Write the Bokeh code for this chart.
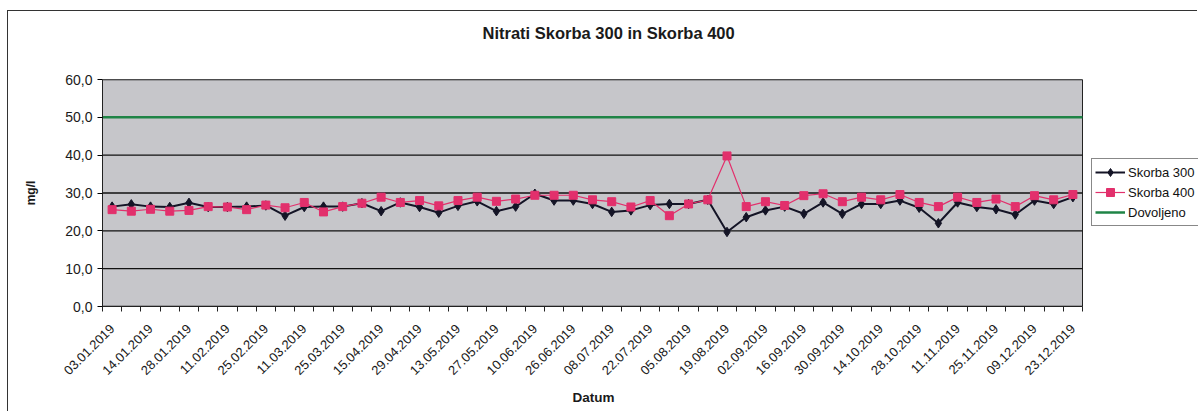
from bokeh.plotting import figure
from bokeh.layouts import column
from bokeh.models import FixedTicker, Legend, LegendItem, Range1d, Title
from bokeh.embed import file_html
from bokeh.resources import INLINE

# ---- data -------------------------------------------------------------
title_text = "Nitrati Skorba 300 in Skorba 400"
x_title = "Datum"
y_title = "mg/l"

# labelled sampling dates (every second sample carries a label)
date_labels = ["03.01.2019", "14.01.2019", "28.01.2019", "11.02.2019", "25.02.2019",
               "11.03.2019", "25.03.2019", "15.04.2019", "29.04.2019", "13.05.2019",
               "27.05.2019", "10.06.2019", "26.06.2019", "08.07.2019", "22.07.2019",
               "05.08.2019", "19.08.2019", "02.09.2019", "16.09.2019", "30.09.2019",
               "14.10.2019", "28.10.2019", "11.11.2019", "25.11.2019", "09.12.2019",
               "23.12.2019"]

skorba300 = [26.4, 27.0, 26.4, 26.3, 27.4, 26.3, 26.3, 26.4, 26.7, 24.0,
             26.3, 26.4, 26.4, 27.3, 25.2, 27.5, 26.3, 24.8, 26.6, 27.8,
             25.2, 26.4, 29.8, 28.0, 28.0, 27.1, 25.0, 25.4, 26.8, 27.1,
             27.1, 28.2, 19.7, 23.6, 25.4, 26.4, 24.5, 27.5, 24.5, 27.1,
             27.1, 28.0, 26.1, 22.0, 27.5, 26.3, 25.7, 24.3, 28.0, 27.1,
             28.9]

skorba400 = [25.6, 25.2, 25.7, 25.2, 25.4, 26.4, 26.3, 25.6, 26.8, 26.1,
             27.5, 25.0, 26.4, 27.3, 28.9, 27.5, 28.0, 26.6, 28.0, 28.9,
             27.8, 28.4, 29.4, 29.4, 29.4, 28.2, 27.7, 26.3, 28.0, 24.0,
             27.1, 28.2, 39.8, 26.4, 27.7, 26.7, 29.3, 29.8, 27.7, 28.9,
             28.2, 29.6, 27.5, 26.4, 28.9, 27.5, 28.4, 26.4, 29.3, 28.2,
             29.6]

dovoljeno = 50.0  # allowed limit

y_ticks = [0, 10, 20, 30, 40, 50, 60]
y_tick_labels = ["0,0", "10,0", "20,0", "30,0", "40,0", "50,0", "60,0"]

# ---- layout constants -------------------------------------------------
FONT = "Liberation Sans"
W, H = 1190, 401
LEFT, TOP, BOTTOM = 94, 68, 106
PLOT_W = 980                      # width of the grey plot area in px

n = len(skorba300)
xs = list(range(n))
x_start, x_end = -0.5, n - 0.5
y_min, y_max = y_ticks[0], y_ticks[-1]
# the frame reaches the right edge so the legend can sit right of the plot area
x_view_end = x_start + n * (W - LEFT) / PLOT_W

p = figure(width=W, height=H, output_backend="svg", toolbar_location=None,
           x_range=Range1d(x_start, x_view_end), y_range=Range1d(y_min, y_max),
           min_border_left=LEFT, min_border_right=0, min_border_top=TOP,
           min_border_bottom=BOTTOM)

p.background_fill_color = "white"
p.border_fill_color = "white"
p.outline_line_color = None

p.styles = {"border-left": "1px solid #333333", "border-top": "1px solid #333333"}

# title
p.title.text = title_text
p.title.align = "left"
p.title.offset = 380
p.title.text_font = FONT
p.title.text_font_size = "16.5px"
p.title.text_font_style = "bold"
p.title.text_color = "#1a1a1a"
p.title.standoff = 0

# empty spacer between the title and the plot area
spacer = Title(text=" ", text_font=FONT, text_font_size="16.5px", standoff=18)
p.add_layout(spacer, "above")

# grey plot area + grid lines (limited to the category range)
p.quad(left=x_start, right=x_end, bottom=y_min, top=y_max,
       fill_color="#c6c6ca", line_color="#222222", line_width=1)
p.segment(x0=[x_start] * len(y_ticks), x1=[x_end] * len(y_ticks),
          y0=y_ticks, y1=y_ticks, line_color="#111111", line_width=1.3)
p.xgrid.visible = False
p.ygrid.visible = False

# y axis
ya = p.yaxis[0]
ya.ticker = FixedTicker(ticks=y_ticks)
ya.major_label_overrides = {t: l for t, l in zip(y_ticks, y_tick_labels)}
ya.major_label_text_font = FONT
ya.major_label_text_font_size = "14px"
ya.major_label_text_color = "#1a1a1a"
ya.major_tick_out = 5
ya.major_tick_in = 0
ya.minor_tick_line_color = None
ya.major_label_standoff = 5
ya.axis_line_color = "#222222"
ya.axis_label = y_title
ya.axis_label_text_font = FONT
ya.axis_label_text_font_size = "12px"
ya.axis_label_text_font_style = "bold"
ya.axis_label_text_color = "#1a1a1a"
ya.axis_label_standoff = 24

# x axis
label_pos = xs[::2]
xa = p.xaxis[0]
xa.bounds = (x_start, x_end)
xa.ticker = FixedTicker(ticks=label_pos,
                        minor_ticks=[i - 0.5 for i in range(n + 1)])
xa.major_label_overrides = {t: l for t, l in zip(label_pos, date_labels)}
xa.major_label_orientation = 0.785398
xa.major_label_text_font = FONT
xa.major_label_text_font_size = "13px"
xa.major_label_text_color = "#1a1a1a"
xa.major_tick_line_color = None
xa.major_tick_out = 0
xa.major_tick_in = 0
xa.minor_tick_out = 5
xa.minor_tick_in = 0
xa.minor_tick_line_color = "#222222"
xa.major_label_standoff = 15
xa.axis_line_color = "#222222"

# x axis title, centred under the grey plot area
xtitle = Title(text=x_title, align="left", offset=470, standoff=12,
               text_font=FONT, text_font_size="13.5px", text_font_style="bold",
               text_color="#1a1a1a")
p.add_layout(xtitle, "below")

# ---- series -----------------------------------------------------------
BLACK = "#141426"
PINK = "#e2306c"
GREEN = "#1f8446"

l300 = p.line(xs, skorba300, line_color=BLACK, line_width=2)
m300 = p.scatter(xs, skorba300, marker="diamond", size=9.5, fill_color=BLACK,
                 line_color=BLACK)

l400 = p.line(xs, skorba400, line_color=PINK, line_width=1.2)
m400 = p.scatter(xs, skorba400, marker="square", size=8, fill_color=PINK,
                 line_color=PINK)

ldov = p.line([x_start, x_end], [dovoljeno, dovoljeno], line_color=GREEN,
              line_width=2.5)

legend = Legend(items=[LegendItem(label="Skorba 300", renderers=[l300, m300]),
                       LegendItem(label="Skorba 400", renderers=[l400, m400]),
                       LegendItem(label="Dovoljeno", renderers=[ldov])],
                location=(PLOT_W + 9, 80))
legend.border_line_color = "#111111"
legend.border_line_width = 1.2
legend.background_fill_color = "white"
legend.background_fill_alpha = 1
legend.label_text_font = FONT
legend.label_text_font_size = "13px"
legend.label_text_color = "#111111"
legend.glyph_width = 30
legend.glyph_height = 20
legend.label_height = 20
legend.label_standoff = 3
legend.padding = 3
legend.spacing = 0
legend.margin = 0
p.add_layout(legend)

root = column(p, styles={"padding-left": "7px", "padding-top": "10px"})

open("out.html", "w").write(file_html(root, INLINE))
